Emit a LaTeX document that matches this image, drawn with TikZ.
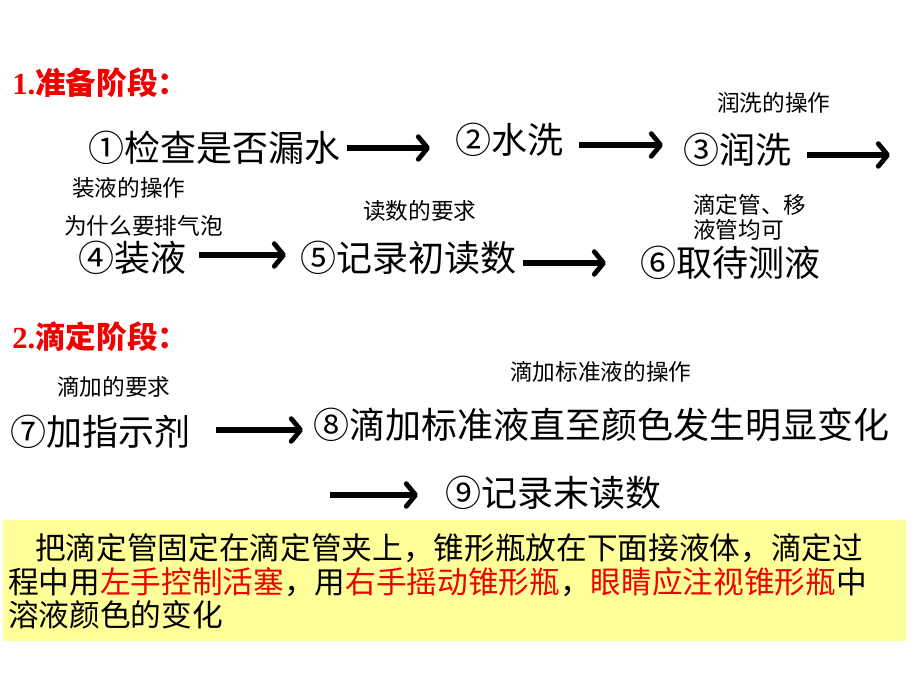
\documentclass[tikz,border=0pt]{standalone}
\usepackage{fontspec}
\setmainfont{Noto Sans CJK SC}
\newfontfamily\numfont{Liberation Serif}
\usetikzlibrary{arrows.meta,calc}
\definecolor{titlered}{RGB}{240,0,0}
\definecolor{notebg}{RGB}{255,255,153}

\tikzset{
  stage/.style={anchor=west,inner sep=0pt,font=\fontsize{27}{30}\selectfont},
  hint/.style={anchor=west,inner sep=0pt,align=left,font=\fontsize{17}{19}\selectfont},
  phase/.style={anchor=west,inner sep=0pt,text=titlered,font=\fontsize{23}{26}\selectfont\bfseries},
  note/.style={anchor=west,inner sep=0pt,font=\fontsize{23}{26}\selectfont},
  flow/.style={line width=3.8pt,-{Straight Barb[length=7pt,width=17pt,line width=3.6pt,round]}}
}

\begin{document}
\begin{tikzpicture}[x=0.75pt,y=-0.75pt]
  \fill[white] (0,0) rectangle (920,690);
  \useasboundingbox (0,0) rectangle (920,690);

  % preparation
  \node[phase](p1) at (12,83) {{\numfont 1.}准备阶段：};
  \node[stage](s1) at (88,148) {①检查是否漏水};
  \node[stage](s2) at (455,140) {②水洗};
  \node[stage](s3) at (683,150) {③润洗};
  \node[hint](h3) at (717,103) {润洗的操作};
  \coordinate (c3) at (890,155);
  \node[hint](h4a) at (72,188) {装液的操作};
  \node[hint](h4b) at (64,226) {为什么要排气泡};
  \node[stage](s4) at (78,258) {④装液};
  \node[hint](h5) at (363,211) {读数的要求};
  \node[stage](s5) at (300,258) {⑤记录初读数};
  \node[hint](h6) at (693,217) {滴定管、移\\液管均可};
  \node[stage](s6) at (640,263) {⑥取待测液};

  \draw[flow] ($(s1.east)+(6,0)$) -- ($(s1.east -| s2.west)+(-25,0)$);
  \draw[flow] ($(s2.east)+(15,5)$) -- ($(s2.east -| s3.west)+(-20,5)$);
  \draw[flow] ($(s3.east)+(15,5)$) -- (c3);
  \draw[flow] ($(s4.east)+(12,-3)$) -- ($(s4.east -| s5.west)+(-14,-3)$);
  \draw[flow] ($(s5.east)+(6,5)$) -- ($(s5.east -| s6.west)+(-34,5)$);

  % titration
  \node[phase](p2) at (12,337) {{\numfont 2.}滴定阶段：};
  \node[hint](h7) at (57,387) {滴加的要求};
  \node[stage](s7) at (10,432) {⑦加指示剂};
  \node[hint](h8) at (510,372) {滴加标准液的操作};
  \node[stage](s8) at (313,425) {⑧滴加标准液直至颜色发生明显变化};
  \coordinate (c8) at (330,495);
  \node[stage](s9) at (445,493) {⑨记录末读数};

  \draw[flow] ($(s7.east)+(25,-2)$) -- ($(s7.east -| s8.west)+(-10,-2)$);
  \draw[flow] (c8) -- ($(c8 -| s9.west)+(-27,0)$);

  % note box
  \fill[notebg] (3,520) rectangle (906,641);
  \node[note](n1) at (35,548) {把滴定管固定在滴定管夹上，锥形瓶放在下面接液体，滴定过};
  \node[note](n2) at (8,582) {程中用\textcolor{titlered}{左手控制活塞}，用\textcolor{titlered}{右手摇动锥形瓶}，\textcolor{titlered}{眼睛应注视锥形瓶}中};
  \node[note](n3) at (8,615) {溶液颜色的变化};
\end{tikzpicture}
\end{document}
